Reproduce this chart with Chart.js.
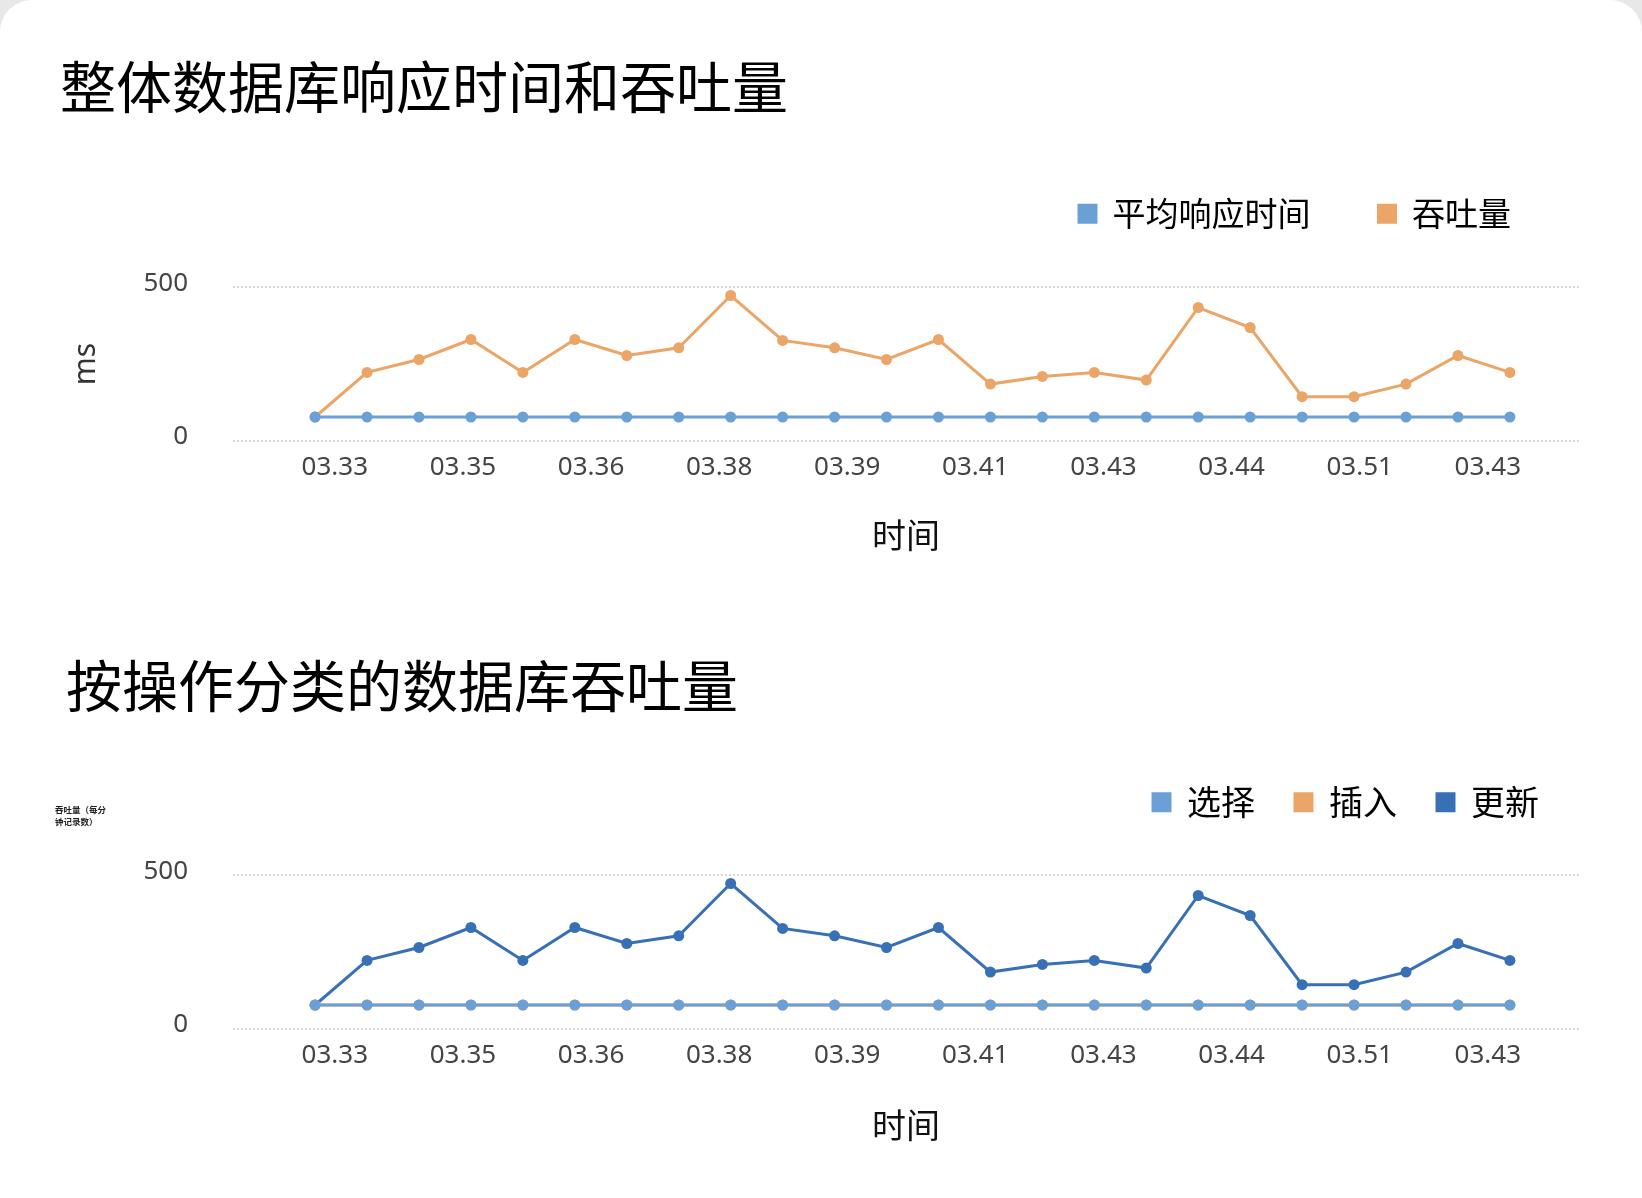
<!DOCTYPE html>
<html>
<head>
<meta charset="utf-8">
<script src="https://cdn.jsdelivr.net/npm/chart.js@4.4.1/dist/chart.umd.min.js"></script>
<style>
html, body { margin: 0; padding: 0; background: #e8e8e8; }
.card { position: relative; width: 1642px; height: 1198px; background: #fff; border-radius: 32px 32px 0 0; overflow: hidden; }
.box { position: relative; width: 1642px; height: 599px; }
.tiny { position: absolute; left: 55px; top: 803px; font: 600 8.5px/12px 'Noto Sans CJK SC', sans-serif; color: #222; }
</style>
</head>
<body>
<div class="card">
  <div class="box"><canvas id="canvasTotal"></canvas></div>
  <div class="box"><canvas id="canvasOps"></canvas></div>
  <div class="tiny">吞吐量（每分<br>钟记录数）</div>
</div>
<script>
// tick labels shown under the x axis (they do not line up with the points)
var timeLabels = ['03.33', '03.35', '03.36', '03.38', '03.39', '03.41', '03.43', '03.44', '03.51', '03.43'];
var yTicks = [0, 500];

// chart 1
var avgResponse = [78, 78, 78, 78, 78, 78, 78, 78, 78, 78, 78, 78, 78, 78, 78, 78, 78, 78, 78, 78, 78, 78, 78, 78];
var throughput = [78, 223, 265, 330, 223, 330, 278, 303, 473, 327, 303, 265, 330, 185, 210, 223, 198, 434, 369, 144, 144, 185, 278, 223];

// chart 2
var selectOps = [78, 78, 78, 78, 78, 78, 78, 78, 78, 78, 78, 78, 78, 78, 78, 78, 78, 78, 78, 78, 78, 78, 78, 78];
var insertOps = [78, 78, 78, 78, 78, 78, 78, 78, 78, 78, 78, 78, 78, 78, 78, 78, 78, 78, 78, 78, 78, 78, 78, 78];
var updateOps = [78, 223, 265, 330, 223, 330, 278, 303, 473, 327, 303, 265, 330, 185, 210, 223, 198, 434, 369, 144, 144, 185, 278, 223];

var chartColors = {
    lightBlue: '#6ba0d6',
    orange: '#eba566',
    darkBlue: '#3770b5'
};

// where the 10 time labels sit, in point-index units
var xTickStart = 0.38;
var xTickStep = 2.466;

Chart.defaults.font.family = "'Noto Sans', 'Noto Sans CJK SC', sans-serif";
Chart.defaults.color = '#555';

function createDataSet(strlabel, color, values){
    var set = {
        label: strlabel,
        borderColor: color,
        backgroundColor: color,
        pointBackgroundColor: color,
        borderWidth: 3,
        pointRadius: 5.5,
        pointBorderWidth: 0,
        data: values.map(function(v, i){ return {x: i, y: v}; }),
        fill: false
    };
    return set;
}

function createLineChart(canvas, datasets, o){
    var ctx = document.getElementById(canvas).getContext('2d');
    return new Chart(ctx, {
        type: 'line',
        data: { datasets: datasets },
        options: {
            responsive: true,
            maintainAspectRatio: false,
            animation: false,
            layout: { padding: { left: o.left, right: 63, top: 0, bottom: o.bottom } },
            plugins: {
                tooltip: { enabled: false },
                title: {
                    display: true,
                    text: o.title,
                    align: 'start',
                    color: '#000',
                    font: { size: 56, weight: 'normal', family: "'Noto Sans CJK SC', sans-serif", lineHeight: 1.2 },
                    padding: { top: o.titleTop, bottom: o.titleBottom }
                },
                legend: {
                    display: true,
                    position: 'top',
                    align: 'end',
                    labels: {
                        color: '#000',
                        font: { size: o.legendSize, family: "'Noto Sans CJK SC', sans-serif" },
                        boxWidth: 17,
                        boxHeight: 17,
                        padding: o.legendPad
                    }
                },
                // empty block used as a gap between legend and plot
                subtitle: {
                    display: true,
                    text: '',
                    weight: 500,
                    font: { size: 1, lineHeight: 1 },
                    padding: { top: o.gap, bottom: 0 }
                }
            },
            scales: {
                x: {
                    type: 'linear',
                    bounds: 'data',
                    min: -1.58,
                    max: 24.33,
                    afterBuildTicks: function(scale){
                        scale.ticks = timeLabels.map(function(t, k){ return {value: xTickStart + k * xTickStep}; });
                    },
                    afterFit: function(scale){ scale.height = 120; },
                    grid: { display: false },
                    border: { display: false },
                    ticks: {
                        autoSkip: false,
                        maxRotation: 0,
                        padding: 3,
                        color: '#444',
                        font: { size: 26 },
                        callback: function(v, idx){ return timeLabels[idx]; }
                    },
                    title: {
                        display: true,
                        text: '时间',
                        color: '#111',
                        font: { size: 34, family: "'Noto Sans CJK SC', sans-serif" },
                        padding: { top: 0, bottom: o.xTitleBottom }
                    }
                },
                y: {
                    min: 0,
                    max: 500,
                    afterBuildTicks: function(scale){
                        scale.ticks = yTicks.map(function(v){ return {value: v}; });
                    },
                    afterFit: function(scale){ scale.width = 233 - o.left; },
                    grid: { color: '#d8d8d8', lineWidth: 2, drawTicks: false },
                    border: { display: false, dash: [2, 2] },
                    ticks: {
                        padding: 45,
                        labelOffset: function(c){ return c.tick && c.tick.value === 0 ? -9 : -4; },
                        color: '#444',
                        font: { size: 26 }
                    },
                    title: {
                        display: o.yTitle !== '',
                        text: o.yTitle,
                        color: '#333',
                        font: { size: 30 },
                        padding: { top: 8, bottom: 0 }
                    }
                }
            }
        }
    });
}

function drawTotalChart(){
    var datasets = [
        createDataSet('平均响应时间', chartColors.lightBlue, avgResponse),
        createDataSet('吞吐量', chartColors.orange, throughput)
    ];
    createLineChart('canvasTotal', datasets, {
        title: '整体数据库响应时间和吞吐量',
        titleTop: 53, titleBottom: 9,
        legendSize: 33, legendPad: 68, gap: 46,
        left: 60, bottom: 38, xTitleBottom: 6,
        yTitle: 'ms'
    });
}

function drawOpsChart(){
    var datasets = [
        createDataSet('选择', chartColors.lightBlue, selectOps),
        createDataSet('插入', chartColors.orange, insertOps),
        createDataSet('更新', chartColors.darkBlue, updateOps)
    ];
    createLineChart('canvasOps', datasets, {
        title: '按操作分类的数据库吞吐量',
        titleTop: 53, titleBottom: 26,
        legendSize: 34, legendPad: 40, gap: 45,
        left: 66, bottom: 49, xTitleBottom: 4,
        yTitle: ''
    });
}

drawTotalChart();
drawOpsChart();
</script>
</body>
</html>
